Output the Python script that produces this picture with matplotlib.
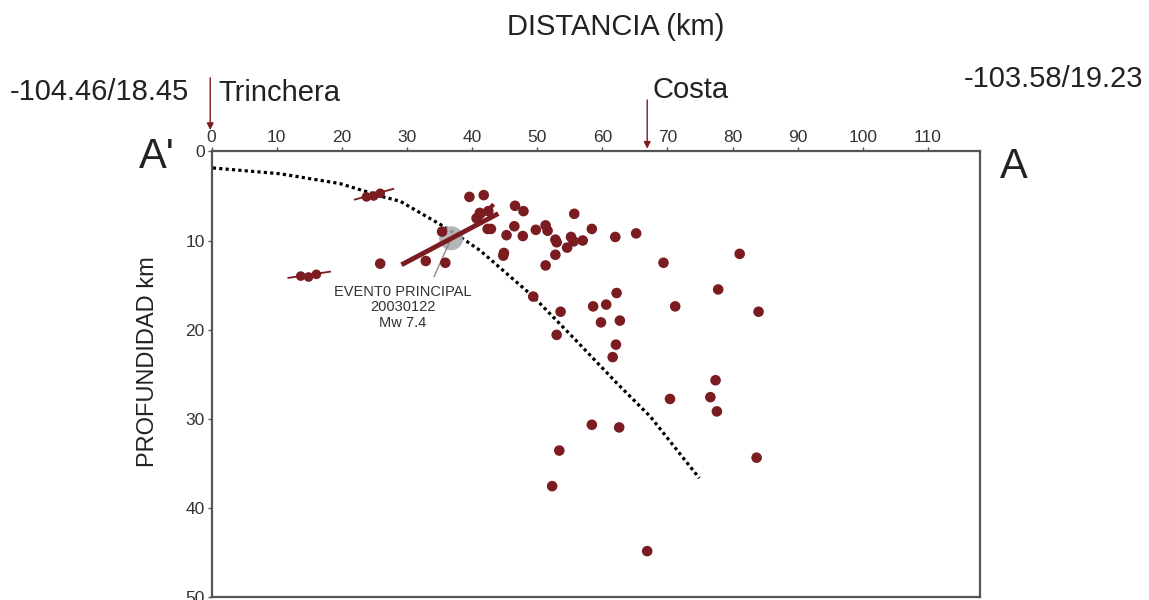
import numpy as np
import matplotlib
matplotlib.use('Agg')
import matplotlib.pyplot as plt

plt.rcParams['font.family'] = ['Liberation Sans', 'DejaVu Sans']

# sismos (distancia km, profundidad km)
dist = [39.6, 41.8, 41.2, 42.5, 40.7, 42.4, 42.9, 46.6, 47.9, 46.5, 45.3, 47.8, 49.8, 51.3, 51.6,
        55.7, 58.4, 52.8, 53.0, 55.2, 55.6, 57.0, 54.6, 52.8, 51.3, 44.9, 44.8, 62.0, 65.2,
        69.4, 81.1, 32.9, 35.9, 35.4, 25.9, 49.4, 62.2, 58.6, 60.6, 71.2, 77.8, 84.0, 53.6,
        59.8, 62.7, 53.0, 62.1, 61.6, 77.4, 76.6, 77.6, 70.4, 58.4, 62.6, 53.4, 52.3, 83.7, 66.9]
prof = [5.1, 4.9, 6.9, 6.7, 7.5, 8.7, 8.7, 6.1, 6.7, 8.4, 9.4, 9.5, 8.8, 8.3, 8.9,
        7.0, 8.7, 9.9, 10.2, 9.6, 10.1, 10.0, 10.8, 11.6, 12.8, 11.4, 11.7, 9.6, 9.2,
        12.5, 11.5, 12.3, 12.5, 9.0, 12.6, 16.3, 15.9, 17.4, 17.2, 17.4, 15.5, 18.0, 18.0,
        19.2, 19.0, 20.6, 21.7, 23.1, 25.7, 27.6, 29.2, 27.8, 30.7, 31.0, 33.6, 37.6, 34.4, 44.9]

# perfil de la placa (linea punteada)
slab_x = [0.2, 10.5, 19.7, 26.4, 29.0, 35.6, 38.2, 41.2, 49.4, 55.8, 62.2, 67.4, 74.9]
slab_z = [1.85, 2.5, 3.6, 5.1, 5.6, 8.4, 9.6, 11.1, 16.3, 21.1, 26.0, 29.8, 36.7]

# mecanismos (planos) con sus sismos
plano1_x = [22.0, 27.9]
plano1_z = [5.4, 4.2]
plano1_ev_x = [23.8, 24.9, 25.9]
plano1_ev_z = [5.1, 5.0, 4.7]
plano2_x = [11.8, 18.2]
plano2_z = [14.2, 13.5]
plano2_ev_x = [13.7, 14.9, 16.1]
plano2_ev_z = [14.0, 14.1, 13.8]
plano_ppal_x = [29.5, 43.7]
plano_ppal_z = [12.6, 7.1]
rama_x = [41.0, 43.1]
rama_z = [7.7, 6.1]

# evento principal
ev_x, ev_z = 36.8, 9.75
costa_x = 66.9

rojo = '#7a1c20'

fig = plt.figure(figsize=(11.49, 6.0), dpi=100)
ax = fig.add_axes([0.1841, 0.0058, 0.6688, 0.7417])

ax.plot(slab_x, slab_z, color='black', linestyle=(0, (1, 1)), linewidth=2.3, zorder=2)

ax.scatter([ev_x], [ev_z], s=300, color='#a9a9a9', alpha=0.85, zorder=3, edgecolors='none')
ax.plot(plano_ppal_x, plano_ppal_z, color=rojo, linewidth=3.5, zorder=4)
ax.plot(rama_x, rama_z, color=rojo, linewidth=3, zorder=4)
ax.plot(plano1_x, plano1_z, color=rojo, linewidth=1.3, zorder=4)
ax.plot(plano2_x, plano2_z, color=rojo, linewidth=1.3, zorder=4)
ax.scatter(plano1_ev_x, plano1_ev_z, s=48, color=rojo, zorder=5, edgecolors='none')
ax.scatter(plano2_ev_x, plano2_ev_z, s=48, color=rojo, zorder=5, edgecolors='none')

ax.scatter(dist, prof, s=58, color=rojo, zorder=5, edgecolors='none')

# etiqueta del evento principal
ax.annotate('EVENT0 PRINCIPAL\n20030122\nMw 7.4', xy=(ev_x, ev_z), xytext=(29.4, 17.5),
            ha='center', va='center', fontsize=10.5, color='#333333', linespacing=1.15,
            arrowprops=dict(arrowstyle='-', color='#8a8a8a', lw=1, shrinkA=4, shrinkB=0,
                            relpos=(0.7, 1.0)))

ax.set_xlim(0, 118)
ax.set_ylim(50, 0)
ax.set_xticks(np.arange(0, 111, 10))
ax.set_yticks(np.arange(0, 51, 10))
ax.xaxis.tick_top()
ax.tick_params(axis='both', labelsize=12.5, labelcolor='#333333', color='#555555',
               length=3, width=1, pad=2)
for s in ax.spines.values():
    s.set_color('#555555')
    s.set_linewidth(1.6)

# flechas Trinchera / Costa
ax.annotate('', xy=(-0.2, -2.1), xytext=(-0.2, -8.6), annotation_clip=False,
            arrowprops=dict(arrowstyle='-|>', color=rojo, lw=1, mutation_scale=10))
ax.annotate('', xy=(costa_x, 0), xytext=(costa_x, -6.1), annotation_clip=False,
            arrowprops=dict(arrowstyle='-|>', color=rojo, lw=1, mutation_scale=10))

fig.text(0.536, 0.955, 'DISTANCIA (km)', ha='center', va='center', fontsize=21, color='#222222')
fig.text(0.0087, 0.847, '-104.46/18.45', ha='left', va='center', fontsize=21, color='#222222')
fig.text(0.1897, 0.845, 'Trinchera', ha='left', va='center', fontsize=21, color='#222222')
fig.text(0.5675, 0.85, 'Costa', ha='left', va='center', fontsize=21, color='#222222')
fig.text(0.9948, 0.868, '-103.58/19.23', ha='right', va='center', fontsize=21, color='#222222')
fig.text(0.1366, 0.738, "A'", ha='center', va='center', fontsize=30, color='#222222')
fig.text(0.8825, 0.722, 'A', ha='center', va='center', fontsize=30, color='#222222')
fig.text(0.1288, 0.397, 'PROFUNDIDAD km', ha='center', va='center', rotation=90,
         fontsize=17, color='#222222')

plt.savefig('out.png', dpi=100)
